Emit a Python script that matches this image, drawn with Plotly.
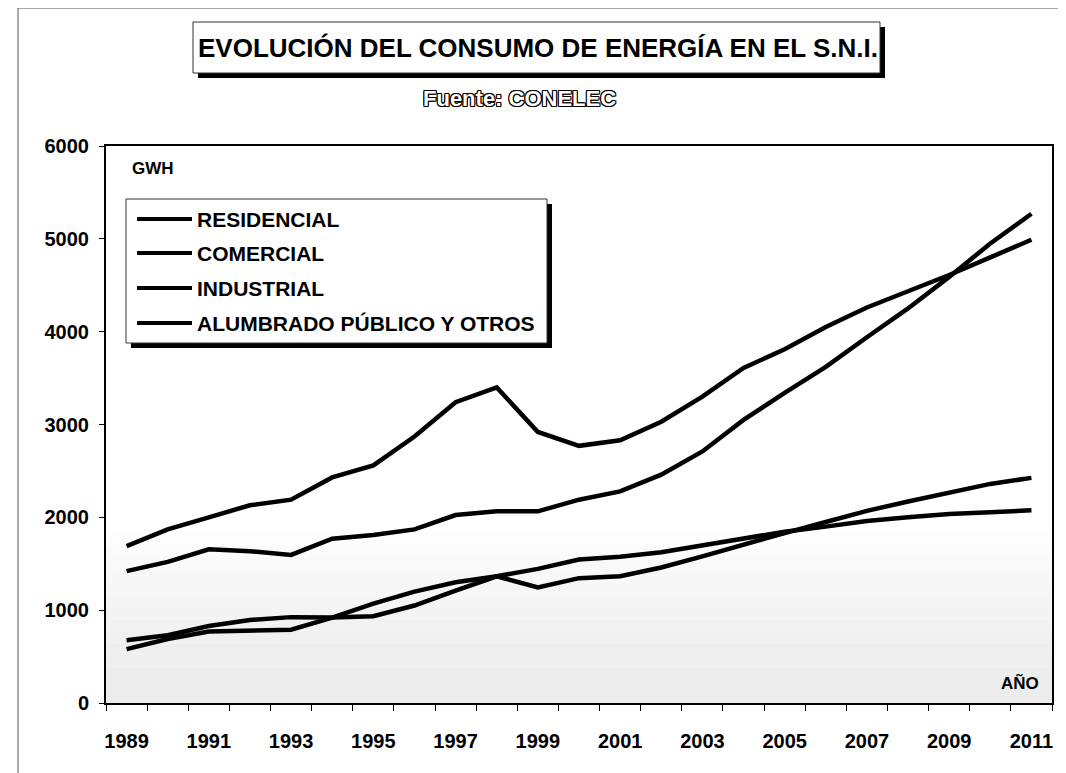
import plotly.graph_objects as go

years = list(range(1989, 2012))
series_names = ["RESIDENCIAL", "COMERCIAL", "INDUSTRIAL", "ALUMBRADO PÚBLICO Y OTROS"]

residencial = [1690, 1870, 2000, 2130, 2190, 2430, 2560, 2870, 3240, 3400, 2920, 2770,
               2830, 3030, 3300, 3610, 3810, 4050, 4260, 4430, 4610, 4800, 4990]
comercial = [675, 730, 830, 895, 925, 920, 935, 1050, 1210, 1365, 1245, 1345,
             1365, 1460, 1580, 1710, 1830, 1950, 2070, 2170, 2270, 2360, 2425]
industrial = [1420, 1520, 1655, 1635, 1595, 1770, 1810, 1870, 2025, 2065, 2065, 2190,
              2280, 2460, 2710, 3050, 3340, 3620, 3940, 4250, 4590, 4950, 5270]
alumbrado = [580, 690, 770, 785, 790, 920, 1070, 1200, 1300, 1365, 1445, 1545,
             1575, 1625, 1695, 1765, 1845, 1900, 1960, 2000, 2035, 2055, 2075]
series_values = [residencial, comercial, industrial, alumbrado]

y_ticks = [0, 1000, 2000, 3000, 4000, 5000, 6000]
x_ticks = list(range(1989, 2012, 2))

# page is offset by the 8px body margin of the html page
OFF = 8
PAGE_W, PAGE_H = 1066, 773
W, H = PAGE_W - OFF, PAGE_H - OFF
# plot area in page pixels: x 106..1052, y 146..703
L, T = 106 - OFF, 146 - OFF
R = W - (1052 - OFF)
B = H - (703 - OFF)
pw, ph = W - L - R, H - T - B


def px(x):
    return (x - OFF - L) / pw


def py(y):
    return (H - B - (y - OFF)) / ph


SANS = "Liberation Sans, Arial, sans-serif"

fig = go.Figure()
for name, vals in zip(series_names, series_values):
    fig.add_trace(go.Scatter(x=years, y=vals, mode="lines", name=name,
                             line=dict(color="black", width=4.5), showlegend=False))

shapes = []
# faint scan stipple in the lower part (soft gradient)
n_bands = 14
for i in range(n_bands):
    y0 = i * 130
    y1 = (i + 1) * 130
    g = int(236 + (255 - 236) * (i / n_bands) ** 1.3)
    shapes.append(dict(type="rect", xref="paper", yref="y", x0=0, x1=1, y0=y0, y1=y1,
                       fillcolor=f"rgb({g},{g},{g})", line=dict(width=0), layer="below"))
# outer frame lines
shapes.append(dict(type="line", xref="paper", yref="paper", x0=px(18), x1=px(1066),
                   y0=py(8), y1=py(8), line=dict(color="#555", width=1)))
shapes.append(dict(type="line", xref="paper", yref="paper", x0=px(18), x1=px(18),
                   y0=py(8), y1=py(773), line=dict(color="#555", width=1)))
# title box with shadow
shapes.append(dict(type="rect", xref="paper", yref="paper", x0=px(198), x1=px(885),
                   y0=py(27), y1=py(78), fillcolor="black", line=dict(width=0)))
shapes.append(dict(type="rect", xref="paper", yref="paper", x0=px(193), x1=px(880),
                   y0=py(22), y1=py(73), fillcolor="white", line=dict(color="#333", width=1)))
# legend box with shadow
shapes.append(dict(type="rect", xref="paper", yref="paper", x0=px(131), x1=px(552),
                   y0=py(204), y1=py(348), fillcolor="black", line=dict(width=0)))
shapes.append(dict(type="rect", xref="paper", yref="paper", x0=px(126), x1=px(547),
                   y0=py(199), y1=py(343), fillcolor="white", line=dict(color="#333", width=1)))

annotations = []
legend_rows = [219, 253, 288, 323]
for name, yy in zip(series_names, legend_rows):
    shapes.append(dict(type="line", xref="paper", yref="paper", x0=px(137), x1=px(192),
                       y0=py(yy), y1=py(yy), line=dict(color="black", width=4)))
    annotations.append(dict(xref="paper", yref="paper", x=px(195), y=py(yy), text=name,
                            showarrow=False, xanchor="left", yanchor="middle",
                            font=dict(family=SANS, size=21, color="black", weight="bold")))

annotations.append(dict(xref="paper", yref="paper", x=px(538), y=py(48),
                        text="EVOLUCIÓN DEL CONSUMO DE ENERGÍA EN EL S.N.I.", showarrow=False,
                        xanchor="center", yanchor="middle",
                        font=dict(family=SANS, size=26, color="black", weight="bold")))
annotations.append(dict(xref="paper", yref="paper", x=px(519), y=py(98),
                        text="Fuente: CONELEC", showarrow=False,
                        xanchor="center", yanchor="middle",
                        font=dict(family=SANS, size=22, color="white", weight="bold",
                                  shadow="1px 0 0 #000, -1px 0 0 #000, 0 1px 0 #000, 0 -1px 0 #000, 1px 1px 0 #000, -1px -1px 0 #000, 1px -1px 0 #000, -1px 1px 0 #000")))
annotations.append(dict(xref="paper", yref="paper", x=px(130), y=py(168), text="GWH",
                        showarrow=False, xanchor="left", yanchor="middle",
                        font=dict(family=SANS, size=17, color="black", weight="bold")))
annotations.append(dict(xref="paper", yref="paper", x=px(1041), y=py(683), text="AÑO",
                        showarrow=False, xanchor="right", yanchor="middle",
                        font=dict(family=SANS, size=17, color="black", weight="bold")))

fig.update_layout(
    width=W, height=H,
    margin=dict(l=L, r=R, t=T, b=B, pad=0),
    paper_bgcolor="white", plot_bgcolor="white",
    shapes=shapes, annotations=annotations,
    xaxis=dict(range=[1988.5, 2011.5], tickmode="array", tickvals=x_ticks,
               ticktext=[str(v) for v in x_ticks], ticks="", showgrid=False,
               zeroline=False, showline=True, linecolor="black", linewidth=1.5, mirror=True,
               ticklabelstandoff=19,
               tickfont=dict(family=SANS, size=20, color="black", weight="bold"),
               minor=dict(tickmode="array", tickvals=[v + 0.5 for v in range(1988, 2012)],
                          ticks="outside", ticklen=6, tickwidth=1, tickcolor="black",
                          showgrid=False)),
    yaxis=dict(range=[0, 6000], tickmode="array", tickvals=y_ticks,
               ticks="outside", ticklen=5, tickwidth=1, tickcolor="black",
               showgrid=False, zeroline=False, showline=True, linecolor="black",
               linewidth=2, mirror=True, ticklabelstandoff=6,
               tickfont=dict(family=SANS, size=20, color="black", weight="bold")),
)

fig.write_html("out.html")
